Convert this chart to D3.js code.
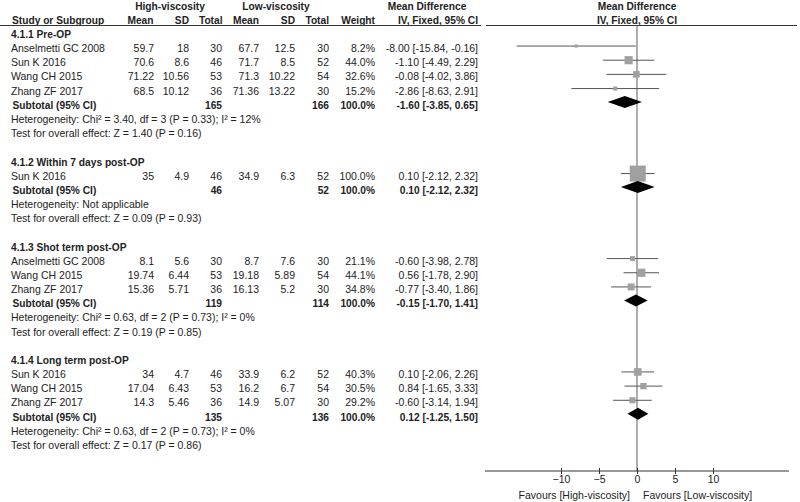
<!DOCTYPE html>
<html><head><meta charset="utf-8">
<script src="https://cdn.jsdelivr.net/npm/d3@7"></script>
<style>
body{margin:0;background:#fff;}
svg{display:block;font-family:"Liberation Sans",Arial,sans-serif;}
</style></head>
<body><svg id="c" width="800" height="502"></svg>
<script>
// ---------- DATA ----------
const groupNames = ["4.1.1 Pre-OP","4.1.2 Within 7 days post-OP","4.1.3 Shot term post-OP","4.1.4 Long term post-OP"];
const studyNames = ["Anselmetti GC 2008","Sun K 2016","Wang CH 2015","Zhang ZF 2017",
                    "Sun K 2016",
                    "Anselmetti GC 2008","Wang CH 2015","Zhang ZF 2017",
                    "Sun K 2016","Wang CH 2015","Zhang ZF 2017"];
const studyGroup = [0,0,0,0,1,2,2,2,3,3,3];
const mean1 = [59.7,70.6,71.22,68.5, 35, 8.1,19.74,15.36, 34,17.04,14.3];
const sd1   = [18,8.6,10.56,10.12, 4.9, 5.6,6.44,5.71, 4.7,6.43,5.46];
const n1    = [30,46,53,36, 46, 30,53,36, 46,53,36];
const mean2 = [67.7,71.7,71.3,71.36, 34.9, 8.7,19.18,16.13, 33.9,16.2,14.9];
const sd2   = [12.5,8.5,10.22,13.22, 6.3, 7.6,5.89,5.2, 6.2,6.7,5.07];
const n2    = [30,52,54,30, 52, 30,54,30, 52,54,30];
const weight= [8.2,44.0,32.6,15.2, 100.0, 21.1,44.1,34.8, 40.3,30.5,29.2];
const md    = [-8.00,-1.10,-0.08,-2.86, 0.10, -0.60,0.56,-0.77, 0.10,0.84,-0.60];
const mdLo  = [-15.84,-4.49,-4.02,-8.63, -2.12, -3.98,-1.78,-3.40, -2.06,-1.65,-3.14];
const mdHi  = [-0.16,2.29,3.86,2.91, 2.32, 2.78,2.90,1.86, 2.26,3.33,1.94];

const subTotal1 = [165,46,119,135];
const subTotal2 = [166,52,114,136];
const subMd  = [-1.60,0.10,-0.15,0.12];
const subLo  = [-3.85,-2.12,-1.70,-1.25];
const subHi  = [0.65,2.32,1.41,1.50];
const heterogeneity = ["Heterogeneity: Chi\u00b2 = 3.40, df = 3 (P = 0.33); I\u00b2 = 12%",
                       "Heterogeneity: Not applicable",
                       "Heterogeneity: Chi\u00b2 = 0.63, df = 2 (P = 0.73); I\u00b2 = 0%",
                       "Heterogeneity: Chi\u00b2 = 0.63, df = 2 (P = 0.73); I\u00b2 = 0%"];
const overallEffect = ["Test for overall effect: Z = 1.40 (P = 0.16)",
                       "Test for overall effect: Z = 0.09 (P = 0.93)",
                       "Test for overall effect: Z = 0.19 (P = 0.85)",
                       "Test for overall effect: Z = 0.17 (P = 0.86)"];
const axisTicks = [-10,-5,0,5,10];
const axisDomain = [-20,20];
const favourLeft = "Favours [High-viscosity]";
const favourRight = "Favours [Low-viscosity]";

// ---------- LAYOUT ----------
const svg = d3.select("#c");
const FS = 10.5, FSB = 10.2;
const txtCol = "#222";
const rowY = r => 20 + 14.17*r;
const x = d3.scaleLinear().domain(axisDomain).range([485, 789]);

function text(xp, yc, s, anchor, bold){
  svg.append("text").attr("x",xp).attr("y",yc+3.8)
    .attr("text-anchor",anchor||"start")
    .attr("font-size", bold?FSB:FS)
    .attr("font-weight", bold?"bold":"normal")
    .attr("fill",txtCol).text(s);
}
const fmtCI = (m,l,h) => `${m.toFixed(2)} [${l.toFixed(2)}, ${h.toFixed(2)}]`;

// headers
text(170, 6, "High-viscosity", "middle", true);
text(276, 6, "Low-viscosity", "middle", true);
text(427, 6, "Mean Difference", "middle", true);
text(637, 6, "Mean Difference", "middle", true);
text(12, 20, "Study or Subgroup", "start", true);
text(153.5, 20, "Mean", "end", true);
text(189, 20, "SD", "end", true);
text(222.5, 20, "Total", "end", true);
text(259, 20, "Mean", "end", true);
text(295, 20, "SD", "end", true);
text(329, 20, "Total", "end", true);
text(375, 20, "Weight", "end", true);
text(478, 20, "IV, Fixed, 95% CI", "end", true);
text(637, 20, "IV, Fixed, 95% CI", "middle", true);
svg.append("line").attr("x1",0).attr("x2",481).attr("y1",25.5).attr("y2",25.5).attr("stroke","#333").attr("stroke-width",1);
svg.append("line").attr("x1",486).attr("x2",797).attr("y1",25.5).attr("y2",25.5).attr("stroke","#333").attr("stroke-width",1);

// zero line
svg.append("line").attr("x1",x(0)).attr("x2",x(0)).attr("y1",25.5).attr("y2",471)
  .attr("stroke","#777").attr("stroke-width",1.2);

// rows
let r = 1;
groupNames.forEach((g, gi) => {
  text(11, rowY(r), g, "start", true); r++;
  studyNames.forEach((s, i) => {
    if (studyGroup[i] !== gi) return;
    const y = rowY(r);
    text(11, y, s);
    text(154, y, String(mean1[i]), "end");
    text(189, y, String(sd1[i]), "end");
    text(222, y, String(n1[i]), "end");
    text(259, y, String(mean2[i]), "end");
    text(295, y, String(sd2[i]), "end");
    text(329, y, String(n2[i]), "end");
    text(375, y, weight[i].toFixed(1)+"%", "end");
    text(478, y, fmtCI(md[i],mdLo[i],mdHi[i]), "end");
    const my = y - 2.3;
    svg.append("line").attr("x1",x(mdLo[i])).attr("x2",x(mdHi[i])).attr("y1",my).attr("y2",my)
      .attr("stroke","#555").attr("stroke-width",1);
    const sz = 2 + 14*weight[i]/100;
    svg.append("rect").attr("x",x(md[i])-sz/2).attr("y",my-sz/2).attr("width",sz).attr("height",sz)
      .attr("fill","#a0a0a0");
    r++;
  });
  const ys = rowY(r);
  text(12.5, ys, "Subtotal (95% CI)", "start", true);
  text(222, ys, String(subTotal1[gi]), "end", true);
  text(329, ys, String(subTotal2[gi]), "end", true);
  text(375, ys, "100.0%", "end", true);
  text(478, ys, fmtCI(subMd[gi],subLo[gi],subHi[gi]), "end", true);
  const dy = ys - 3, h = 6;
  svg.append("path").attr("d",
    `M${x(subLo[gi])},${dy} L${x(subMd[gi])},${dy-h} L${x(subHi[gi])},${dy} L${x(subMd[gi])},${dy+h} Z`)
    .attr("fill","#000");
  r++;
  text(11, rowY(r), heterogeneity[gi]); r++;
  text(11, rowY(r), overallEffect[gi]); r++;
  r++;
});

// axis
const ay = 471;
const axis = d3.axisBottom(x).tickValues(axisTicks).tickSize(3).tickFormat(d3.format("d"));
const ag = svg.append("g").attr("transform",`translate(0,${ay})`).call(axis);
ag.select(".domain").attr("d",`M${x(axisDomain[0])},0H${x(axisDomain[1])}`).attr("stroke","#333");
ag.selectAll(".tick line").attr("y1",-3).attr("y2",3).attr("stroke","#333");
ag.selectAll(".tick text").attr("y",5).attr("font-size",FS).attr("font-family","Liberation Sans, Arial, sans-serif").attr("fill",txtCol);
text(630, 495, favourLeft, "end");
text(643, 495, favourRight, "start");
</script></body></html>
